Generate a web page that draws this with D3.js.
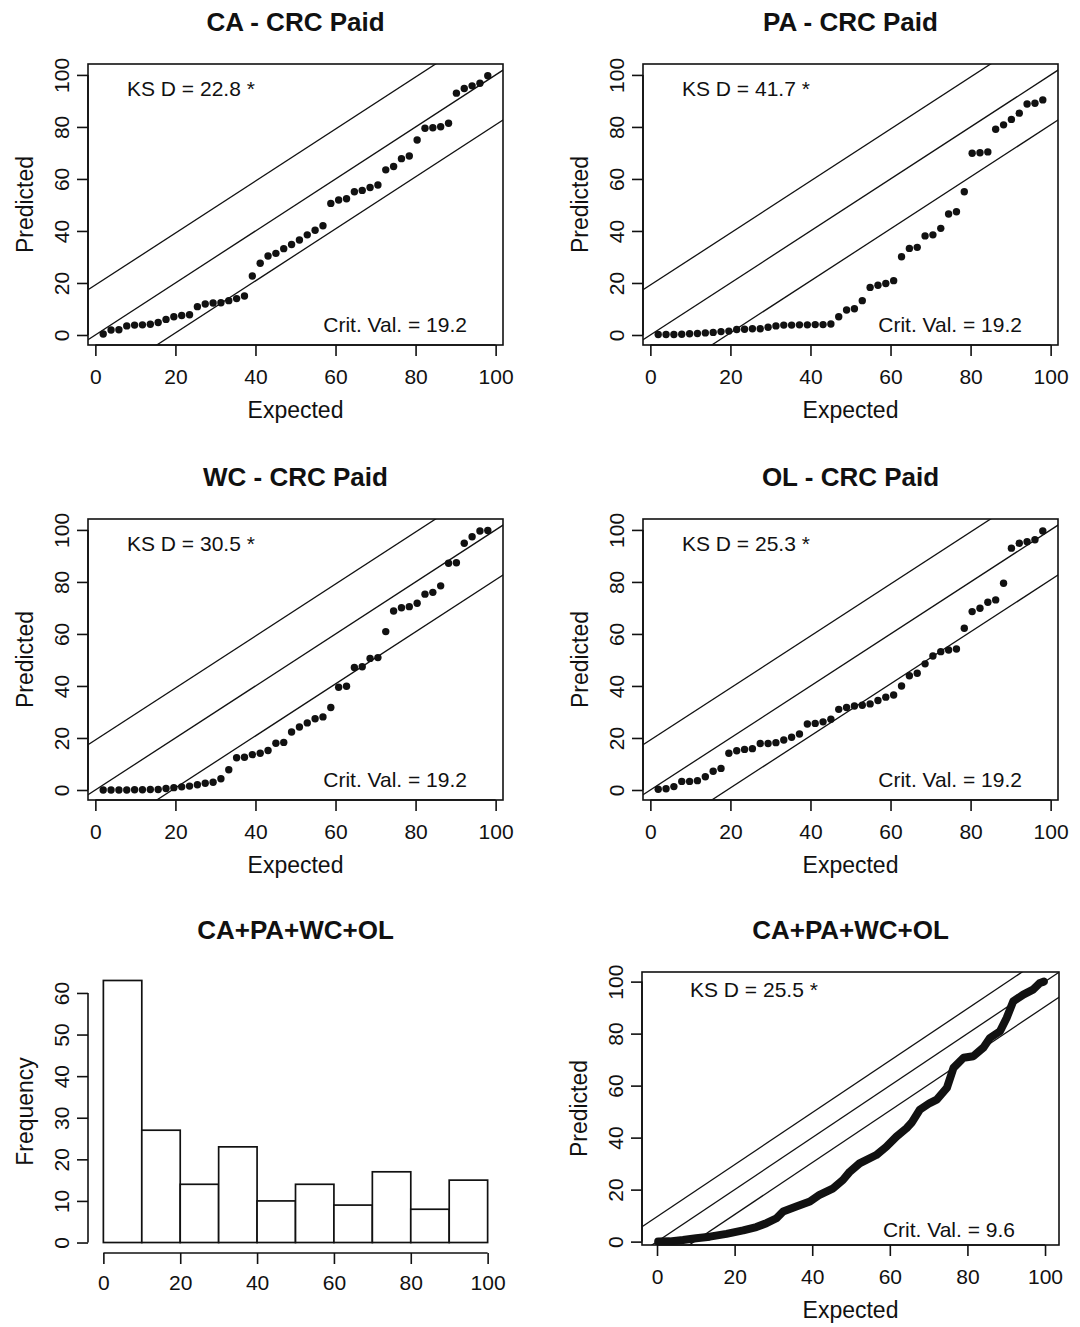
<!DOCTYPE html>
<html>
<head>
<meta charset="utf-8">
<script src="https://cdn.jsdelivr.net/npm/d3@7"></script>
<style>
  html, body { margin: 0; padding: 0; background: #fff; }
  svg { display: block; }
  text { font-family: "Liberation Sans", Arial, Helvetica, sans-serif; fill: #111; }
</style>
</head>
<body>
<svg id="chart" width="1080" height="1327"></svg>
<script>
// ---------------- DATA ----------------
const panelTitles = ["CA - CRC Paid", "PA - CRC Paid", "WC - CRC Paid", "OL - CRC Paid"];
const ksValues = [22.8, 41.7, 30.5, 25.3];
const critValues = [19.2, 19.2, 19.2, 19.2];

// expected percentiles (x) for the 50-point panels
const expected50 = [1.96, 3.92, 5.88, 7.84, 9.80, 11.76, 13.73, 15.69, 17.65, 19.61,
  21.57, 23.53, 25.49, 27.45, 29.41, 31.37, 33.33, 35.29, 37.25, 39.22,
  41.18, 43.14, 45.10, 47.06, 49.02, 50.98, 52.94, 54.90, 56.86, 58.82,
  60.78, 62.75, 64.71, 66.67, 68.63, 70.59, 72.55, 74.51, 76.47, 78.43,
  80.39, 82.35, 84.31, 86.27, 88.24, 90.20, 92.16, 94.12, 96.08, 98.04];

const predCA = [0.4, 1.9, 2.0, 3.5, 3.8, 3.9, 4.1, 4.8, 6.0, 7.0,
  7.5, 7.8, 10.9, 11.9, 12.3, 12.4, 13.2, 14.0, 15.0, 22.7,
  27.6, 30.4, 31.4, 33.2, 34.8, 36.5, 38.5, 40.3, 42.0, 50.6,
  51.9, 52.4, 55.1, 55.6, 56.7, 57.7, 63.5, 64.8, 67.8, 68.8,
  75.0, 79.5, 79.7, 80.1, 81.4, 93.0, 94.8, 95.8, 96.8, 99.7];

const predPA = [0.2, 0.2, 0.2, 0.3, 0.5, 0.6, 0.8, 1.0, 1.3, 1.5,
  2.1, 2.2, 2.4, 2.4, 3.0, 3.5, 3.8, 3.8, 3.9, 3.9,
  4.0, 4.0, 4.2, 7.0, 9.6, 10.1, 13.2, 18.3, 19.1, 19.8,
  20.9, 30.1, 33.3, 33.7, 38.1, 38.5, 41.0, 46.5, 47.4, 55.1,
  69.9, 70.1, 70.4, 79.1, 80.8, 82.9, 85.3, 88.8, 89.1, 90.4];

const predWC = [0, 0, 0, 0, 0.1, 0.1, 0.2, 0.2, 0.6, 0.9,
  1.2, 1.5, 2.0, 2.6, 3.0, 4.3, 7.8, 12.4, 12.6, 13.6,
  14.1, 15.2, 18.0, 18.3, 22.3, 24.2, 25.8, 27.4, 28.1, 31.7,
  39.5, 39.9, 47.1, 47.4, 50.6, 50.9, 60.9, 68.8, 70.1, 70.5,
  71.8, 75.3, 76.0, 78.5, 87.2, 87.4, 94.9, 97.4, 99.6, 99.8];

const predOL = [0.3, 0.5, 1.3, 3.3, 3.3, 3.6, 5.1, 7.2, 8.3, 14.1,
  15.1, 15.6, 15.9, 17.9, 17.9, 18.2, 19.2, 20.3, 21.5, 25.4,
  25.6, 26.2, 27.2, 31.0, 31.7, 32.3, 32.6, 33.1, 34.4, 35.7,
  36.5, 40.0, 43.9, 44.9, 48.5, 51.5, 53.2, 53.8, 54.2, 62.2,
  68.6, 69.9, 72.2, 73.1, 79.5, 93.0, 94.9, 95.5, 96.2, 99.6];

// combined panel (CA+PA+WC+OL)
const combTitle = "CA+PA+WC+OL";
const combKS = 25.5;
const combCrit = 9.6;
const combExpected = [0.3, 3.3, 6.7, 10.1, 13.6, 17.9, 22.2, 25.6, 28.2, 30.8,
  32.5, 35.9, 39.4, 41.9, 45.4, 47.9, 49.7, 52.2, 56.5, 59.1,
  61.7, 64.3, 65.6, 67.7, 70.3, 72.1, 74.7, 76.4, 79.0, 81.5,
  84.1, 85.8, 88.4, 90.1, 91.8, 94.4, 96.9, 98.7, 99.7];
const combPredicted = [0.0, 0.1, 0.6, 1.3, 1.9, 3.0, 4.3, 5.6, 7.1, 9.0,
  11.6, 13.5, 15.4, 18.0, 20.5, 23.7, 26.9, 30.1, 33.3, 36.5,
  40.4, 43.6, 45.7, 50.7, 53.3, 54.6, 59.1, 66.8, 70.7, 71.3,
  74.6, 78.3, 80.9, 86.0, 92.4, 95.0, 96.9, 99.5, 100.0];

// histogram of combined predicted percentiles
const histBinStarts = [0, 10, 20, 30, 40, 50, 60, 70, 80, 90];
const histBinWidth = 10;
const histCounts = [63, 27, 14, 23, 10, 14, 9, 17, 8, 15];

// tick labels
const pctTicks = [0, 20, 40, 60, 80, 100];
const freqTicks = [0, 10, 20, 30, 40, 50, 60];

// ---------------- DRAWING ----------------
const svg = d3.select("#chart");
const INK = "#111";
const TICK = 11;

function drawXAxis(g, x, yPos, ticks, labelY) {
  const ax = d3.axisBottom(x).tickValues(ticks).tickSize(TICK).tickPadding(0).tickFormat(d3.format("d"));
  const a = g.append("g").attr("transform", `translate(0,${yPos})`).call(ax);
  a.select(".domain").remove();
  a.selectAll(".tick line").attr("stroke", INK).attr("stroke-width", 1.6);
  a.selectAll(".tick text").attr("y", labelY - yPos).attr("dy", 0)
    .attr("font-size", 21).attr("fill", INK);
  a.append("line").attr("x1", x(ticks[0])).attr("x2", x(ticks[ticks.length - 1]))
    .attr("stroke", INK).attr("stroke-width", 1.6);
}

function drawYAxis(g, y, xPos, ticks, labelX) {
  const ax = d3.axisLeft(y).tickValues(ticks).tickSize(TICK).tickPadding(0).tickFormat(d3.format("d"));
  const a = g.append("g").attr("transform", `translate(${xPos},0)`).call(ax);
  a.select(".domain").remove();
  a.selectAll(".tick line").attr("stroke", INK).attr("stroke-width", 1.6);
  a.selectAll(".tick text")
    .attr("x", 0).attr("dy", 0)
    .attr("transform", `translate(${labelX - xPos},0) rotate(-90)`)
    .attr("text-anchor", "middle")
    .attr("font-size", 21).attr("fill", INK);
  a.append("line").attr("y1", y(ticks[0])).attr("y2", y(ticks[ticks.length - 1]))
    .attr("stroke", INK).attr("stroke-width", 1.6);
}

function labels(g, box, title, titleY, xlab, xlabY, ylab, ylabX) {
  const cx = (box.left + box.right) / 2;
  const cy = (box.top + box.bottom) / 2;
  g.append("text").attr("x", cx).attr("y", titleY).attr("text-anchor", "middle")
    .attr("font-size", 26).attr("font-weight", "bold").text(title);
  if (xlab) g.append("text").attr("x", cx).attr("y", xlabY).attr("text-anchor", "middle")
    .attr("font-size", 23).text(xlab);
  if (ylab) g.append("text").attr("transform", `translate(${ylabX},${cy}) rotate(-90)`)
    .attr("text-anchor", "middle").attr("font-size", 23).text(ylab);
}

let clipId = 0;
function ppPanel(opts) {
  const { box, xDom, yDom, xs, ys, ks, crit, title, asLine } = opts;
  const g = svg.append("g");
  const x = d3.scaleLinear().domain(xDom).range([box.left, box.right]);
  const y = d3.scaleLinear().domain(yDom).range([box.bottom, box.top]);
  const id = "clip" + (clipId++);
  g.append("clipPath").attr("id", id).append("rect")
    .attr("x", box.left).attr("y", box.top)
    .attr("width", box.right - box.left).attr("height", box.bottom - box.top);
  const inner = g.append("g").attr("clip-path", `url(#${id})`);
  // reference lines y = x, y = x +/- crit
  [0, crit, -crit].forEach(off => {
    inner.append("line")
      .attr("x1", x(xDom[0] - 10)).attr("y1", y(xDom[0] - 10 + off))
      .attr("x2", x(xDom[1] + 10)).attr("y2", y(xDom[1] + 10 + off))
      .attr("stroke", INK).attr("stroke-width", 1.3);
  });
  const pts = xs.map((v, i) => [v, ys[i]]);
  if (asLine) {
    inner.append("path").datum(pts)
      .attr("d", d3.line().x(d => x(d[0])).y(d => y(d[1])))
      .attr("fill", "none").attr("stroke", INK).attr("stroke-width", 8)
      .attr("stroke-linejoin", "round").attr("stroke-linecap", "round");
  } else {
    inner.selectAll("circle").data(pts).enter().append("circle")
      .attr("cx", d => x(d[0])).attr("cy", d => y(d[1])).attr("r", 3.7).attr("fill", INK);
  }
  // box
  g.append("rect").attr("x", box.left).attr("y", box.top)
    .attr("width", box.right - box.left).attr("height", box.bottom - box.top)
    .attr("fill", "none").attr("stroke", INK).attr("stroke-width", 1.6);
  drawXAxis(g, x, box.bottom, pctTicks, box.bottom + 39);
  drawYAxis(g, y, box.left, pctTicks, box.left - 19);
  // annotations
  g.append("text").attr("x", box.left + opts.ksDx).attr("y", box.top + opts.ksDy)
    .attr("font-size", 21).text(`KS D = ${ks.toFixed(1)} *`);
  g.append("text").attr("x", box.right - opts.critDx).attr("y", box.bottom - opts.critDy)
    .attr("text-anchor", "end").attr("font-size", 21).text(`Crit. Val. = ${crit.toFixed(1)}`);
  labels(g, box, title, box.top - 33, "Expected", box.bottom + 73, "Predicted", box.left - 55);
}

const preds = [predCA, predPA, predWC, predOL];
const colLeft = [88, 643];
const rowTop = [64, 519];
preds.forEach((p, i) => {
  const col = i % 2, row = Math.floor(i / 2);
  const box = { left: colLeft[col], right: colLeft[col] + 415, top: rowTop[row], bottom: rowTop[row] + 281 };
  ppPanel({
    box, xDom: [-1.84, 101.84], yDom: [-3.85, 104.2],
    xs: expected50, ys: p, ks: ksValues[i], crit: critValues[i], title: panelTitles[i],
    ksDx: 39, ksDy: 32, critDx: 36, critDy: 13
  });
});

// combined P-P panel (bottom right)
ppPanel({
  box: { left: 642, right: 1059, top: 972, bottom: 1245 },
  xDom: [-3.87, 103.6], yDom: [-1.3, 103.7],
  xs: combExpected, ys: combPredicted, ks: combKS, crit: combCrit, title: combTitle,
  asLine: true, ksDx: 48, ksDy: 25, critDx: 44, critDy: 8
});

// histogram (bottom left)
(function () {
  const g = svg.append("g");
  const box = { left: 88, right: 503, top: 970, bottom: 1253 };
  const x = d3.scaleLinear().domain([-4, 104]).range([box.left, box.right]);
  const y = d3.scaleLinear().domain([-2.52, 65.52]).range([box.bottom, box.top]);
  g.selectAll("rect.bar").data(histCounts).enter().append("rect").attr("class", "bar")
    .attr("x", (d, i) => x(histBinStarts[i]))
    .attr("width", (d, i) => x(histBinStarts[i] + histBinWidth) - x(histBinStarts[i]))
    .attr("y", d => y(d)).attr("height", d => y(0) - y(d))
    .attr("fill", "#fff").attr("stroke", INK).attr("stroke-width", 1.7);
  drawXAxis(g, x, box.bottom, pctTicks, box.bottom + 37);
  drawYAxis(g, y, box.left, freqTicks, box.left - 19);
  labels(g, box, combTitle, box.top - 31, null, 0, "Frequency", box.left - 55);
})();
</script>
</body>
</html>
